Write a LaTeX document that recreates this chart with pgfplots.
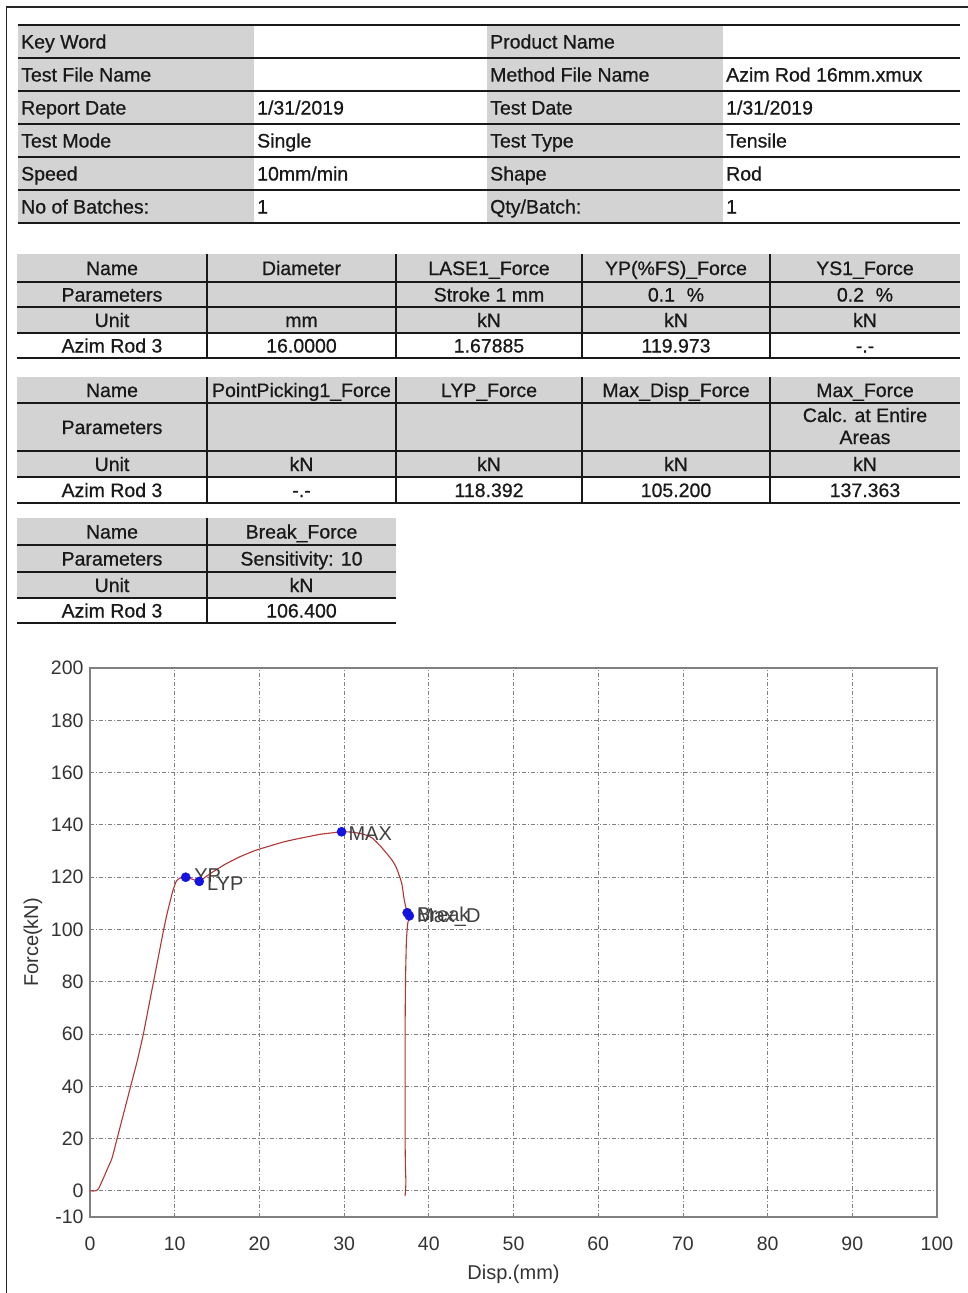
\documentclass[border=0pt]{standalone}
\usepackage{pgfplots}
\pgfplotsset{compat=1.18}
\usepackage{fontspec}
\setmainfont{Liberation Sans}
\newfontfamily\heavy{Liberation Sans}[FakeBold=0.7]
\definecolor{curve}{RGB}{178,52,52}
\definecolor{mk}{RGB}{20,20,225}
\definecolor{cellgray}{RGB}{211,211,211}
\definecolor{ink}{RGB}{25,25,25}
\newcommand{\tf}{\heavy\fontsize{19.5}{22}\selectfont}
\newcommand{\lt}[3]{\node[anchor=base west, inner sep=0pt, font=\tf, text=ink] at (#1,-#2) {#3};}
\newcommand{\ct}[3]{\node[anchor=base, inner sep=0pt, font=\tf, text=ink] at (#1,-#2) {#3};}

\pgfplotstableread{
x y
0 0
0.6 0
1.0 0.8
1.6 5
2.2 9.5
2.6 12.5
3.2 20
4.0 30
4.8 40
5.6 50
6.3 60
6.9 70
7.5 80
8.1 90
8.7 100
9.1 106
9.4 110
9.8 115
10.2 118.5
10.6 119.6
11.3 119.97
12.1 119.2
12.9 118.39
13.6 120
14.5 122
16.0 125
17.7 127.8
19.5 130.2
21.0 131.7
23.0 133.6
25.0 135.0
27.2 136.4
29.0 137.1
29.7 137.36
31.0 137.2
32.3 136.4
33.3 135
34.2 132.2
35.0 129.2
35.7 126.3
36.2 123.4
36.8 117.7
37.1 111.3
37.45 106.4
37.7 105.2
37.5 102
37.35 95
37.25 80
37.2 60
37.2 40
37.2 20
37.25 8
37.3 3
37.2 -2
}\curvedata

\pgfplotstableread{
x y
11.3 119.973
12.9 118.392
29.7 137.363
37.45 106.4
37.7 105.2
}\markdata

\begin{document}
\begin{tikzpicture}
\useasboundingbox (0pt,0pt) rectangle (968pt,-1293pt);
\begin{scope}[x=1pt,y=1pt]
% page border
\draw[black!85, line width=1.5pt] (6.5,-1293) -- (6.5,-7) -- (968,-7);
% ---------- table 1 ----------
\fill[cellgray] (18,-25) rectangle (254,-223);
\fill[cellgray] (487,-25) rectangle (723,-223);
\foreach \y in {25,58,91,124,157,190,223} \draw[ink, line width=2pt] (18,-\y) -- (960,-\y);
\lt{21}{48.5}{Key Word}
\lt{21}{81.5}{Test File Name}
\lt{21}{114.5}{Report Date}
\lt{21}{147.5}{Test Mode}
\lt{21}{180.5}{Speed}
\lt{21}{213.5}{No of Batches:}
\lt{257}{114.5}{1/31/2019}
\lt{257}{147.5}{Single}
\lt{257}{180.5}{10mm/min}
\lt{257}{213.5}{1}
\lt{490}{48.5}{Product Name}
\lt{490}{81.5}{Method File Name}
\lt{490}{114.5}{Test Date}
\lt{490}{147.5}{Test Type}
\lt{490}{180.5}{Shape}
\lt{490}{213.5}{Qty/Batch:}
\lt{726}{81.5}{Azim Rod 16mm.xmux}
\lt{726}{114.5}{1/31/2019}
\lt{726}{147.5}{Tensile}
\lt{726}{180.5}{Rod}
\lt{726}{213.5}{1}
% ---------- table 2 ----------
\fill[cellgray] (17,-254) rectangle (960,-333);
\foreach \y in {282,307,333,358} \draw[ink, line width=2pt] (17,-\y) -- (960,-\y);
\foreach \x in {207,396,582,770} \draw[ink, line width=2pt] (\x,-254) -- (\x,-358);
\ct{112}{275}{Name}
\ct{301.5}{275}{Diameter}
\ct{489}{275}{LASE1\_Force}
\ct{676}{275}{YP(\%FS)\_Force}
\ct{865}{275}{YS1\_Force}
\ct{112}{301.5}{Parameters}
\ct{489}{301.5}{Stroke 1 mm}
\ct{676}{301.5}{0.1\hspace{0.6em}\%}
\ct{865}{301.5}{0.2\hspace{0.6em}\%}
\ct{112}{327}{Unit}
\ct{301.5}{327}{mm}
\ct{489}{327}{kN}
\ct{676}{327}{kN}
\ct{865}{327}{kN}
\ct{112}{352.5}{Azim Rod 3}
\ct{301.5}{352.5}{16.0000}
\ct{489}{352.5}{1.67885}
\ct{676}{352.5}{119.973}
\ct{865}{352.5}{-.-}
% ---------- table 3 ----------
\fill[cellgray] (17,-377) rectangle (960,-477);
\foreach \y in {403,451,477,503} \draw[ink, line width=2pt] (17,-\y) -- (960,-\y);
\foreach \x in {207,396,582,770} \draw[ink, line width=2pt] (\x,-377) -- (\x,-503);
\ct{112}{397}{Name}
\ct{301.5}{397}{PointPicking1\_Force}
\ct{489}{397}{LYP\_Force}
\ct{676}{397}{Max\_Disp\_Force}
\ct{865}{397}{Max\_Force}
\ct{112}{434}{Parameters}
\ct{865}{422}{Calc. at Entire}
\ct{865}{444}{Areas}
\ct{112}{471}{Unit}
\ct{301.5}{471}{kN}
\ct{489}{471}{kN}
\ct{676}{471}{kN}
\ct{865}{471}{kN}
\ct{112}{497}{Azim Rod 3}
\ct{301.5}{497}{-.-}
\ct{489}{497}{118.392}
\ct{676}{497}{105.200}
\ct{865}{497}{137.363}
% ---------- table 4 ----------
\fill[cellgray] (17,-518) rectangle (396,-598);
\foreach \y in {545,572,598,623} \draw[ink, line width=2pt] (17,-\y) -- (396,-\y);
\draw[ink, line width=2pt] (207,-518) -- (207,-623);
\ct{112}{538.5}{Name}
\ct{301.5}{538.5}{Break\_Force}
\ct{112}{565.5}{Parameters}
\ct{301.5}{565.5}{Sensitivity: 10}
\ct{112}{592}{Unit}
\ct{301.5}{592}{kN}
\ct{112}{617.5}{Azim Rod 3}
\ct{301.5}{617.5}{106.400}
\end{scope}
% ---------- chart ----------
\begin{axis}[
  at={(90pt,-1217pt)}, anchor=south west,
  scale only axis, width=847pt, height=549pt,
  xmin=0, xmax=100, ymin=-10, ymax=200,
  xtick={0,10,...,100}, ytick={-10,0,20,...,200},
  major tick length=0pt,
  axis line style={black!50, line width=1.5pt},
  grid=major,
  major grid style={black!50, line width=0.8pt, dash pattern=on 4pt off 2pt on 1pt off 2pt},
  tick label style={font=\fontsize{19.5}{19.5}\selectfont, text=black!80},
  /pgf/number format/assume math mode=true,
  xticklabel style={yshift=-16pt},
  yticklabel style={xshift=-3pt},
  xlabel={Disp.(mm)}, ylabel={Force(kN)},
  label style={font=\fontsize{20}{20}\selectfont, text=black!80},
  xlabel style={at={(axis description cs:0.5,-0.104)}, anchor=center},
  ylabel style={at={(axis description cs:-0.0673,0.5)}, anchor=center},
  clip=false,
]
\addplot[curve, line width=1.1pt, smooth, tension=0.35] table[x=x,y=y] {\curvedata};
\addplot[only marks, mark=*, mark size=4.6pt, mk, mark options={draw=mk, fill=mk}] table[x=x,y=y] {\markdata};
\node[anchor=west, font=\fontsize{20}{20}\selectfont, text=black!75, inner sep=0pt] at (axis cs:12.3,120.6) {YP};
\node[anchor=west, font=\fontsize{20}{20}\selectfont, text=black!75, inner sep=0pt] at (axis cs:13.8,117.6) {LYP};
\node[anchor=west, font=\fontsize{20}{20}\selectfont, text=black!75, inner sep=0pt] at (axis cs:30.5,136.6) {MAX};
\node[anchor=west, font=\fontsize{20}{20}\selectfont, text=black!75, inner sep=0pt] at (axis cs:38.6,105.8) {Break};
\node[anchor=west, font=\fontsize{20}{20}\selectfont, text=black!75, inner sep=0pt] at (axis cs:38.6,104.6) {Max\_D};
\end{axis}
\end{tikzpicture}
\end{document}
